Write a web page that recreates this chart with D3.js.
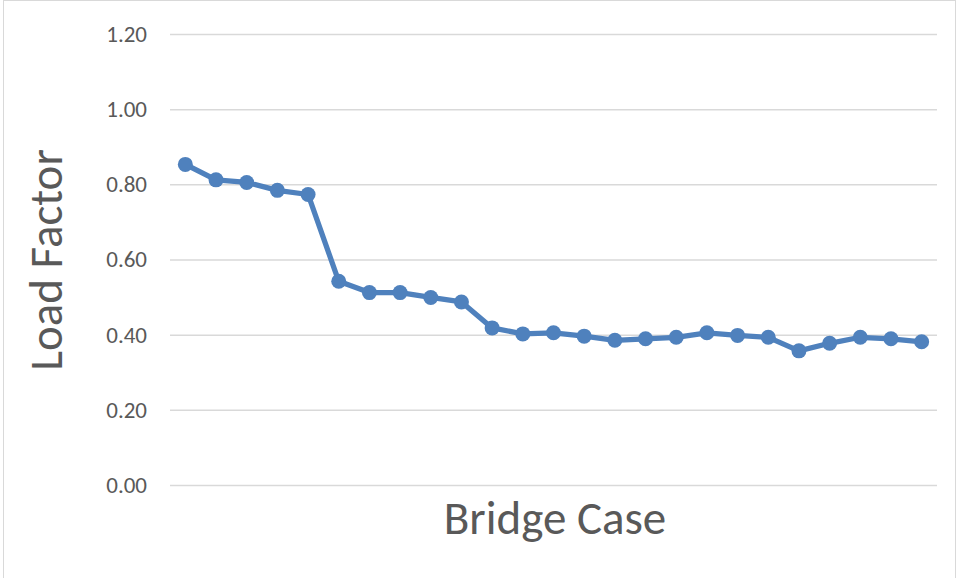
<!DOCTYPE html>
<html>
<head>
<meta charset="utf-8">
<script src="https://cdn.jsdelivr.net/npm/d3@7/dist/d3.min.js"></script>
<style>
  html, body { margin: 0; padding: 0; background: #fff; }
  svg { display: block; }
  text { font-family: Carlito, Calibri, "Open Sans", sans-serif; fill: #595959; }
</style>
</head>
<body>
<svg id="chart" width="956" height="578"></svg>
<script>
// Load factor for each bridge case (cases are unlabelled on the axis)
const cases = d3.range(1, 26);
const loadFactor = [
  0.853, 0.812, 0.805, 0.784, 0.773,
  0.542, 0.512, 0.512, 0.499, 0.487,
  0.418, 0.402, 0.405, 0.396, 0.385,
  0.389, 0.393, 0.405, 0.398, 0.393,
  0.357, 0.377, 0.393, 0.389, 0.381
];
const yTicks = [0, 0.2, 0.4, 0.6, 0.8, 1.0, 1.2];

const svg = d3.select("#chart");
const W = 956, H = 578;

// chart frame
svg.append("rect")
  .attr("x", 3.5).attr("y", 0.5)
  .attr("width", W - 4).attr("height", H + 10)
  .attr("fill", "none").attr("stroke", "#d9d9d9").attr("stroke-width", 1);

const plot = { left: 170, right: 937, top: 34, bottom: 485 };

const x = d3.scaleBand().domain(cases).range([plot.left, plot.right]);
const y = d3.scaleLinear().domain([0, 1.2]).range([plot.bottom, plot.top]);

// horizontal gridlines + tick labels
const yAxis = d3.axisLeft(y)
  .tickValues(yTicks)
  .tickFormat(d3.format(".2f"))
  .tickSize(-(plot.right - plot.left))
  .tickPadding(23);

const gy = svg.append("g")
  .attr("transform", `translate(${plot.left},0)`)
  .call(yAxis);
gy.select(".domain").remove();
gy.selectAll(".tick line").attr("stroke", "#d9d9d9").attr("stroke-width", 1.5);
gy.selectAll(".tick text")
  .attr("fill", "#595959")
  .style("font-size", "23px")
  .style("font-family", "Carlito, Calibri, 'Open Sans', sans-serif");

// series line
const cx = d => x(d) + x.bandwidth() / 2;
const data = cases.map((c, i) => ({ c, v: loadFactor[i] }));

svg.append("path")
  .datum(data)
  .attr("fill", "none")
  .attr("stroke", "#4f81bd")
  .attr("stroke-width", 5.25)
  .attr("stroke-linejoin", "round")
  .attr("d", d3.line().x(d => cx(d.c)).y(d => y(d.v)));

svg.append("g").selectAll("circle")
  .data(data)
  .join("circle")
  .attr("cx", d => cx(d.c))
  .attr("cy", d => y(d.v))
  .attr("r", 7.5)
  .attr("fill", "#4f81bd");

// axis titles
svg.append("text")
  .attr("x", 555).attr("y", 534)
  .attr("text-anchor", "middle")
  .style("font-size", "47px")
  .text("Bridge Case");

svg.append("text")
  .attr("transform", "translate(62,260) rotate(-90)")
  .attr("text-anchor", "middle")
  .style("font-size", "47px")
  .text("Load Factor");
</script>
</body>
</html>
